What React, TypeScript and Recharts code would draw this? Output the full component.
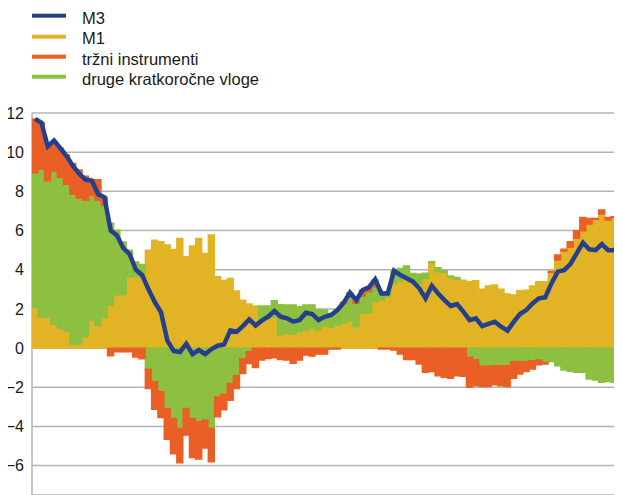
import { Bar, CartesianGrid, ComposedChart, Line, XAxis, YAxis } from "recharts"

// monthly data, Jan 2008 - Oct 2015 (annual growth, contributions in p.p.)
const years = [2008, 2009, 2010, 2011, 2012, 2013, 2014, 2015]
const months = years
  .flatMap(y => Array.from({ length: 12 }, (_, m) => `${y}-${String(m + 1).padStart(2, "0")}`))
  .slice(0, 94)

const m3 = [
  11.7, 11.5, 10.3, 10.6, 10.2, 9.8, 9.3, 8.9, 8.6, 8.55, 7.85, 7.7,
  6.0, 5.75, 5.1, 4.8, 4.0, 3.72, 3.0, 2.35, 1.82, 0.38, -0.15, -0.2,
  0.22, -0.31, -0.1, -0.31, -0.05, 0.12, 0.18, 0.9, 0.83, 1.12, 1.46, 1.15,
  1.4, 1.6, 1.89, 1.6, 1.52, 1.35, 1.43, 1.8, 1.74, 1.43, 1.6, 1.69,
  1.94, 2.32, 2.83, 2.45, 2.96, 3.1, 3.51, 2.79, 2.79, 3.95, 3.73, 3.56,
  3.39, 3.05, 2.54, 3.18, 2.79, 2.45, 2.15, 2.25, 1.86, 1.43, 1.52, 1.12,
  1.23, 1.34, 1.09, 0.89, 1.34, 1.74, 1.94, 2.28, 2.54, 2.59, 3.3, 3.9,
  3.98, 4.29, 4.83, 5.38, 5.04, 5.0, 5.31, 5.0, 5.0, 5.35,
]

const m1 = [
  2.06, 1.58, 1.58, 1.22, 1.0, 0.87, 0.19, 0.2, 0.58, 1.43, 1.14, 1.55,
  2.2, 2.72, 2.72, 3.64, 3.64, 3.64, 5.0, 5.51, 5.43, 5.26, 5.04, 5.6,
  4.66, 5.21, 5.6, 4.83, 5.77, 3.64, 3.45, 3.56, 2.91, 2.45, 2.25, 2.15,
  1.45, 1.5, 1.57, 0.66, 0.75, 0.7, 0.83, 0.92, 1.0, 0.92, 1.12, 1.06,
  1.17, 1.29, 1.38, 1.09, 1.77, 1.8, 2.37, 2.45, 2.62, 3.3, 3.44, 3.61,
  3.47, 3.3, 3.56, 4.36, 3.9, 3.85, 3.61, 3.51, 3.47, 3.39, 3.44, 3.01,
  3.17, 3.22, 3.0, 2.76, 2.71, 2.93, 2.96, 3.17, 3.39, 3.39, 3.86, 4.49,
  4.95, 5.14, 5.6, 5.99, 6.33, 6.57, 6.84, 6.54, 6.67, 6.74,
]

const trzni = [
  2.75, 2.36, 1.76, 1.5, 1.5, 1.5, 1.58, 1.44, 1.22, 0.82, 1.04, 0.43,
  -0.39, -0.19, -0.19, -0.19, -0.46, -0.55, -0.99, -1.41, -1.32, -1.58, -1.81, -1.76,
  -1.36, -2.0, -1.9, -1.42, -1.7, -1.01, -0.8, -0.86, -0.66, -0.75, -0.6, -0.99,
  -0.61, -0.53, -0.49, -0.58, -0.61, -0.78, -0.61, -0.36, -0.41, -0.31, -0.31, -0.05,
  -0.05, 0.05, 0.2, 0.15, 0.3, 0.2, 0.35, -0.05, -0.05, -0.1, -0.3, -0.59,
  -0.59, -0.81, -1.24, -1.2, -1.41, -1.49, -1.54, -1.41, -1.44, -1.53, -1.33, -1.04,
  -1.04, -0.98, -1.02, -1.07, -0.85, -0.63, -0.52, -0.43, -0.25, -0.08, 0.06, 0.26,
  0.1, 0.29, 0.39, 0.68, 0.29, 0.05, 0.21, 0.13, 0.04, 0.27,
]

const druge = [
  6.89, 7.56, 6.96, 7.82, 7.7, 7.49, 7.66, 7.45, 6.98, 6.35, 6.42, 5.72,
  4.17, 3.3, 2.7, 1.36, 0.76, 0.63, -1.08, -1.72, -2.23, -3.08, -3.59, -4.1,
  -3.08, -3.59, -3.76, -3.68, -4.1, -2.5, -2.35, -1.8, -1.4, -0.55, -0.19, 0,
  0.7, 0.65, 0.85, 1.56, 1.45, 1.5, 1.28, 1.28, 1.2, 1.05, 0.82, 0.71,
  0.8, 1.0, 1.24, 1.2, 0.89, 1.08, 0.76, 0.4, 0.25, 0.68, 0.63, 0.58,
  0.34, 0.48, 0.26, 0.05, 0.2, 0.1, 0.07, 0.1, 0, -0.47, -0.59, -0.93,
  -0.93, -0.9, -0.9, -0.9, -0.69, -0.69, -0.68, -0.64, -0.61, -0.73, -0.69, -0.9,
  -1.12, -1.19, -1.24, -1.24, -1.58, -1.63, -1.75, -1.71, -1.75, -1.58,
]

const yTicks = [-6, -4, -2, 0, 2, 4, 6, 8, 10, 12]
const yearStarts = [0, 12, 24, 36, 48, 60, 72, 84]

const BLUE = "#253f8f"
const YELLOW = "#e2b425"
const ORANGE = "#ea5f25"
const GREEN = "#8dbf40"
const FONT = "'Liberation Sans', Arial, sans-serif"

const legendItems = [
  { name: "M3", color: BLUE },
  { name: "M1", color: YELLOW },
  { name: "tržni instrumenti", color: ORANGE },
  { name: "druge kratkoročne vloge", color: GREEN },
]

const data = months.map((month, i) => ({
  month,
  t: i + 0.5,
  m1: m1[i],
  druge: druge[i],
  trzni: trzni[i],
  m3: m3[i],
}))

function ChartLegend() {
  return (
    <div style={{ position: "absolute", left: 32, top: 8.3, fontFamily: FONT, fontSize: 16.5, color: "#1a1a1a" }}>
      {legendItems.map(it => (
        <div key={it.name} style={{ display: "flex", alignItems: "center", height: 20.3, whiteSpace: "nowrap" }}>
          <span style={{ display: "inline-block", width: 34, height: 4, background: it.color, marginRight: 16, transform: "translateY(-2.3px)" }} />
          <span>{it.name}</span>
        </div>
      ))}
    </div>
  )
}

export default function App() {
  return (
    <div style={{ position: "relative", margin: "-8px 0 0 -8px", width: 622, height: 495 }}>
      <ComposedChart
        width={622}
        height={495}
        data={data}
        stackOffset="sign"
        barCategoryGap={0}
        barGap={0}
        margin={{ top: 113, right: 0, bottom: 0, left: 0 }}
      >
        <CartesianGrid stroke="#b4b4b4" strokeWidth={1.5} />
        <XAxis
          type="number"
          dataKey="t"
          domain={[0, 93.7]}
          ticks={yearStarts}
          allowDataOverflow
          height={0}
          tick={false}
          tickLine={false}
          axisLine={false}
        />
        <YAxis
          domain={[-7.5, 12]}
          ticks={yTicks}
          interval={0}
          width={32}
          axisLine={false}
          tickLine={false}
          tickSize={0}
          tickMargin={8}
          allowDataOverflow
          tick={{ fill: "#1a1a1a", fontSize: 16, fontFamily: FONT }}
          tickFormatter={(v: number) => String(v).replace("-", "\u2212")}
        />
        {/* same-colour stroke closes the sub-pixel seams between neighbouring months */}
        <Bar dataKey="m1" name="M1" stackId="a" fill={YELLOW} stroke={YELLOW} strokeWidth={1.4} isAnimationActive={false} />
        <Bar dataKey="druge" name="druge kratkoročne vloge" stackId="a" fill={GREEN} stroke={GREEN} strokeWidth={1.4} isAnimationActive={false} />
        <Bar dataKey="trzni" name="tržni instrumenti" stackId="a" fill={ORANGE} stroke={ORANGE} strokeWidth={1.4} isAnimationActive={false} />
        <Line type="linear" dataKey="m3" name="M3" stroke={BLUE} strokeWidth={4.5} dot={false} isAnimationActive={false} />
      </ComposedChart>
      <ChartLegend />
    </div>
  )
}
